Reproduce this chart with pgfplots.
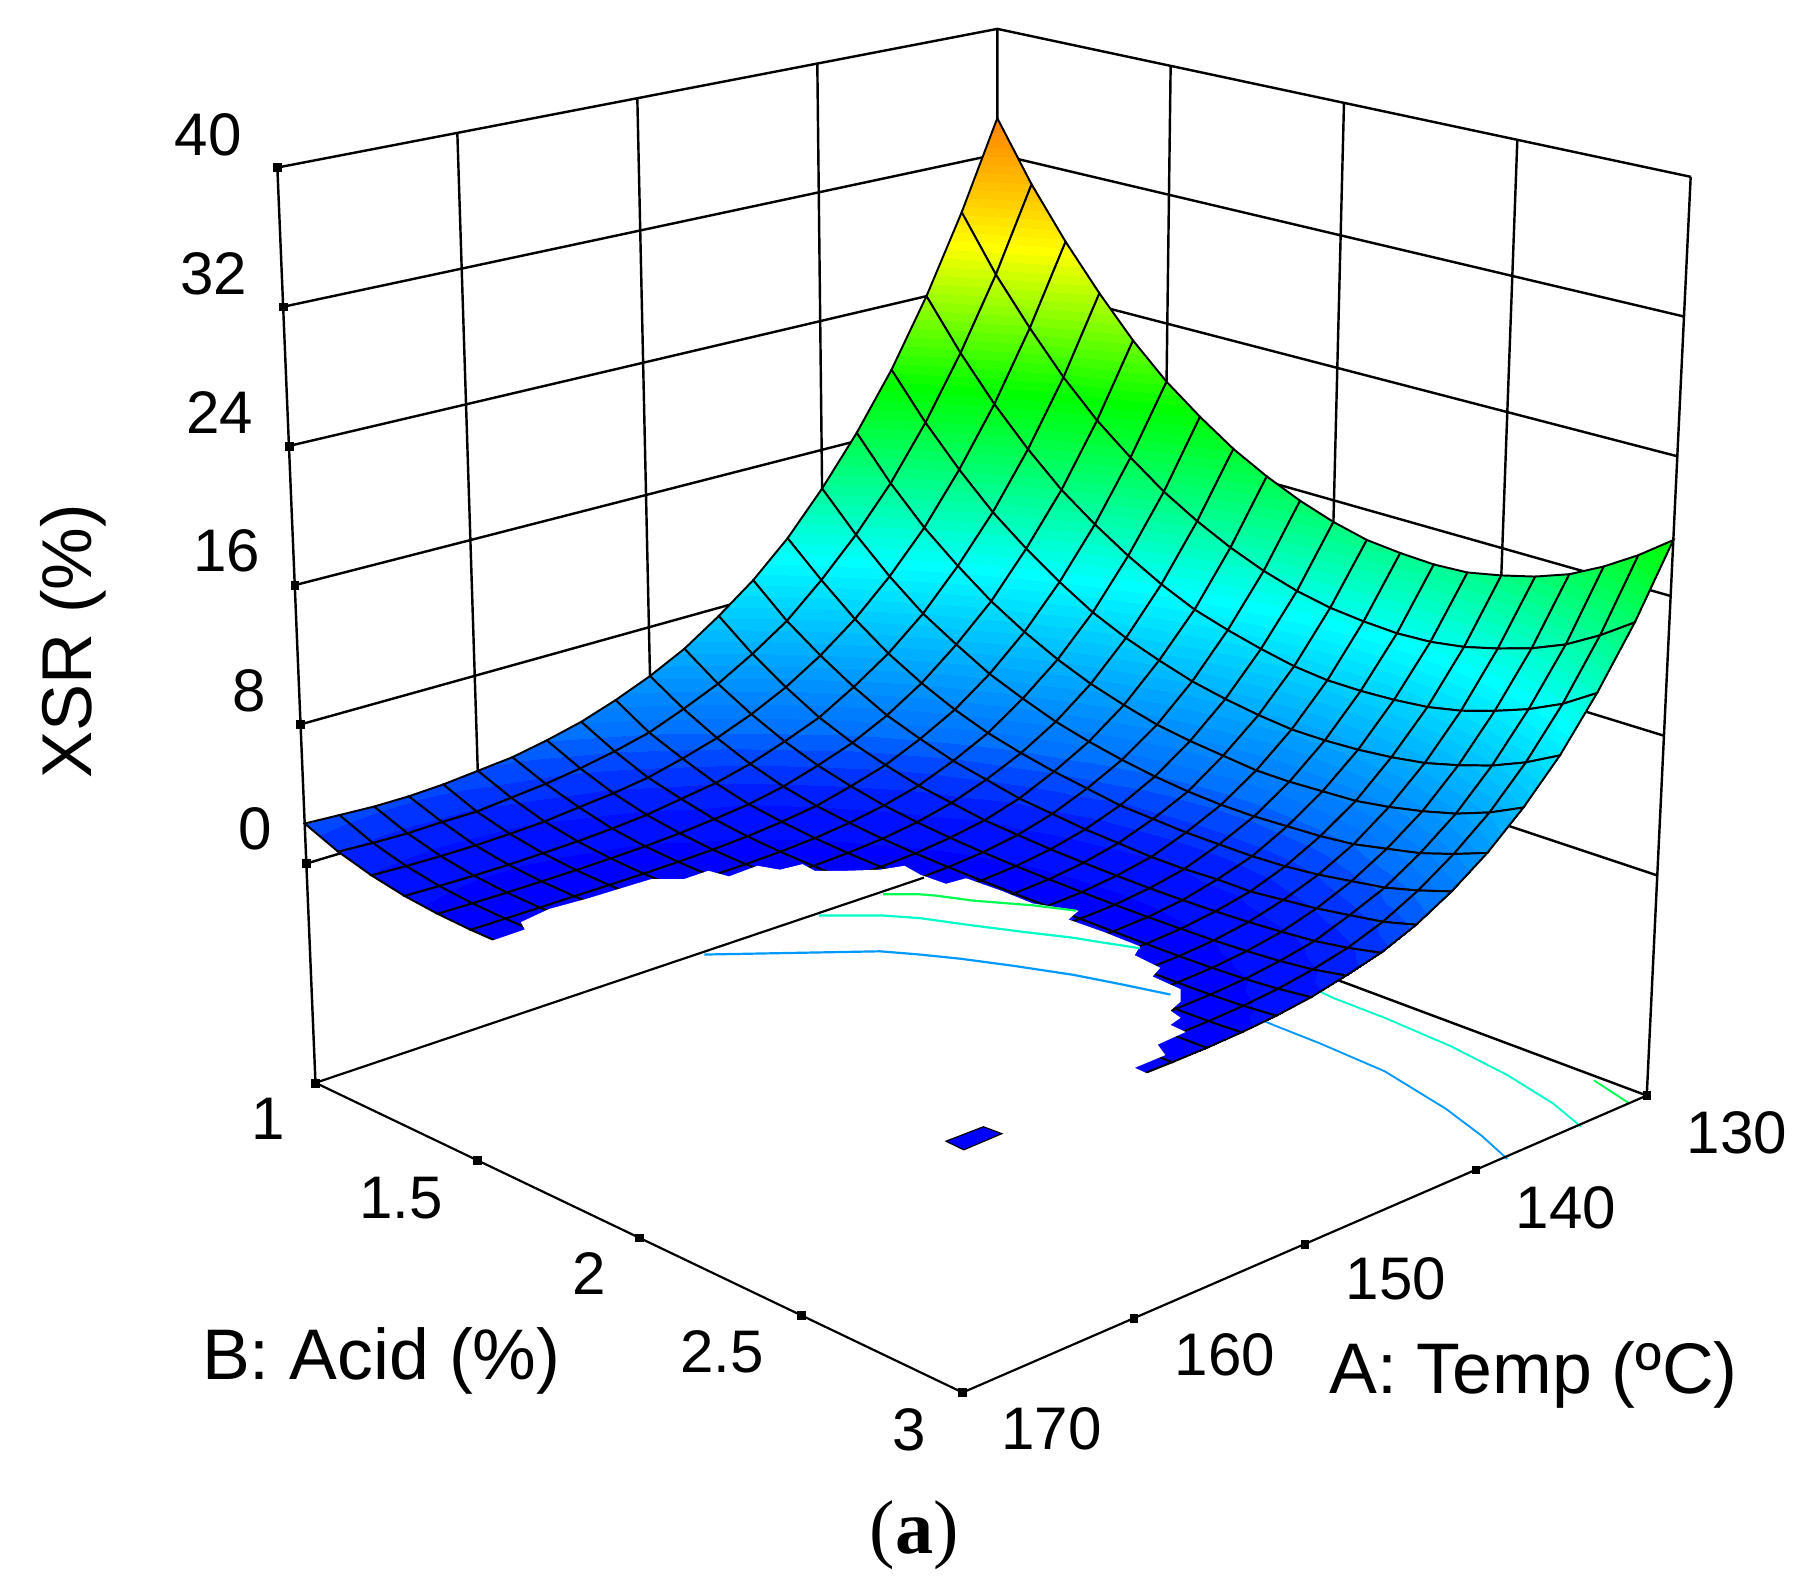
\documentclass[border=0pt]{standalone}
\usepackage{pgfplots}
\pgfplotsset{compat=1.18}
\usepackage{fontspec}
\setmainfont{Liberation Sans}
\newfontfamily\serifa{Liberation Serif}
% A, B, Z -> picture position: the box of the reference (trilinear between its eight corners)
\newcommand\sv{((\thisrow{A}-130)/40)}
\newcommand\tv{((\thisrow{B}-1)/2)}
\newcommand\wv{((\thisrow{Z}+12.6)/52.6)}
\newcommand\PX{863-590*\sv+562*\tv-2*\sv*\tv+\wv*(-33*\sv+38*\tv)}
\newcommand\PY{738+199*\sv+210*\tv+58*\sv*\tv-\wv*(713+79*\sv+82*\tv)}
\newcommand\tl[2]{\node[font=\fontsize{52}{60}\selectfont,inner sep=0pt] at (axis cs:#1) {#2};}
\newcommand\al[2]{\node[font=\fontsize{62}{70}\selectfont,inner sep=0pt] at (axis cs:#1) {#2};}
\begin{document}
\begin{tikzpicture}
\begin{axis}[
  scale only axis, width=1568pt, height=1380pt,
  xmin=0, xmax=1568, ymin=0, ymax=1380, y dir=reverse,
  hide axis, clip=true,
  colormap={dxbase}{[1cm] rgb255(0cm)=(0,0,255) rgb255(1cm)=(0,30,255) rgb255(3cm)=(0,115,255) rgb255(5cm)=(0,155,255) rgb255(10cm)=(0,255,255) rgb255(15cm)=(0,255,110) rgb255(19cm)=(0,255,0) rgb255(23cm)=(128,255,0) rgb255(27cm)=(255,255,0) rgb255(30cm)=(255,200,0) rgb255(35cm)=(255,120,0) rgb255(40cm)=(255,0,0)},
  colormap={dx}{samples of colormap={81 of dxbase}},
  colormap access=piecewise constant,
  point meta min=0, point meta max=40,
  unbounded coords=jump,
]
\addplot[draw=none, fill=white, forget plot] coordinates {(0,0) (1568,0) (1568,1380) (0,1380)} --cycle;
% back walls and floor edges behind the surface
\addplot[black, line width=2.1pt, empty line=jump] table[x expr=\PX, y expr=\PY] {
A B Z
170 1 40
130 1 40
130 3 40

170 1 32
130 1 32
130 3 32

170 1 24
130 1 24
130 3 24

170 1 16
130 1 16
130 3 16

170 1 8
130 1 8
130 3 8

170 1 0
130 1 0
130 3 0

170 1 -12.6
170 1 40

130 1 40
130 1 0

130 3 -12.6
130 3 40

160 1 40
160 1 0

150 1 40
150 1 0

140 1 40
140 1 0

130 1.5 40
130 1.5 0

130 2 40
130 2 0

130 2.5 40
130 2.5 0

130 3 -12.6
130 1 -12.6
};
% right-hand parts of the floor contours
\addplot[color={rgb,255:red,0;green,153;blue,255}, line width=1.6pt] coordinates {(1090,882) (1105.5,888.4) (1140.8,902.3) (1198.2,927) (1251.2,959.5) (1282,982.7) (1304.2,1002.8)};
\addplot[color={rgb,255:red,0;green,255;blue,200}, line width=1.6pt] coordinates {(1140,857) (1154,863.7) (1198.2,880.7) (1255.6,905.4) (1304.2,930.2) (1344,954.9) (1368.2,975)};
\addplot[color={rgb,255:red,0;green,255;blue,80}, line width=1.6pt] coordinates {(1379.2,934.8) (1410.1,954.9)};
% response surface
\addplot[surf, shader=faceted interp, faceted color=black, line width=1.7pt,
  mesh/rows=21, mesh/cols=21, point meta=\thisrow{Z}]
  table[row sep=\\, x expr=\PX, y expr=\PY] {
A B Z\\
130 1.0 34.3\\130 1.1 30.6\\130 1.2 27.5\\130 1.3 24.8\\130 1.4 22.4\\130 1.5 20.4\\130 1.6 18.8\\130 1.7 17.4\\130 1.8 16.3\\130 1.9 15.4\\130 2.0 14.7\\130 2.1 14.2\\130 2.2 14.0\\130 2.3 13.9\\130 2.4 14.0\\130 2.5 14.4\\130 2.6 14.9\\130 2.7 15.6\\130 2.8 16.6\\130 2.9 17.8\\130 3.0 19.2\\
132 1.0 28.8\\132 1.1 25.4\\132 1.2 22.6\\132 1.3 20.1\\132 1.4 18.0\\132 1.5 16.3\\132 1.6 14.8\\132 1.7 13.6\\132 1.8 12.6\\132 1.9 11.8\\132 2.0 11.2\\132 2.1 10.8\\132 2.2 10.6\\132 2.3 10.5\\132 2.4 10.6\\132 2.5 10.9\\132 2.6 11.4\\132 2.7 12.0\\132 2.8 12.8\\132 2.9 13.9\\132 3.0 15.2\\
134 1.0 24.0\\134 1.1 21.0\\134 1.2 18.4\\134 1.3 16.2\\134 1.4 14.3\\134 1.5 12.8\\134 1.6 11.5\\134 1.7 10.4\\134 1.8 9.5\\134 1.9 8.9\\134 2.0 8.4\\134 2.1 8.0\\134 2.2 7.8\\134 2.3 7.8\\134 2.4 7.9\\134 2.5 8.1\\134 2.6 8.5\\134 2.7 9.1\\134 2.8 9.8\\134 2.9 10.7\\134 3.0 11.9\\
136 1.0 19.9\\136 1.1 17.2\\136 1.2 14.9\\136 1.3 12.9\\136 1.4 11.3\\136 1.5 9.9\\136 1.6 8.7\\136 1.7 7.8\\136 1.8 7.1\\136 1.9 6.5\\136 2.0 6.1\\136 2.1 5.8\\136 2.2 5.6\\136 2.3 5.6\\136 2.4 5.7\\136 2.5 5.9\\136 2.6 6.2\\136 2.7 6.7\\136 2.8 7.3\\136 2.9 8.1\\136 3.0 9.1\\
138 1.0 16.5\\138 1.1 14.0\\138 1.2 11.9\\138 1.3 10.2\\138 1.4 8.7\\138 1.5 7.5\\138 1.6 6.5\\138 1.7 5.7\\138 1.8 5.1\\138 1.9 4.6\\138 2.0 4.3\\138 2.1 4.1\\138 2.2 3.9\\138 2.3 3.9\\138 2.4 4.0\\138 2.5 4.1\\138 2.6 4.4\\138 2.7 4.8\\138 2.8 5.3\\138 2.9 6.0\\138 3.0 6.9\\
140 1.0 13.6\\140 1.1 11.4\\140 1.2 9.5\\140 1.3 7.9\\140 1.4 6.7\\140 1.5 5.6\\140 1.6 4.8\\140 1.7 4.1\\140 1.8 3.6\\140 1.9 3.2\\140 2.0 2.9\\140 2.1 2.7\\140 2.2 2.6\\140 2.3 2.6\\140 2.4 2.7\\140 2.5 2.8\\140 2.6 3.0\\140 2.7 3.4\\140 2.8 3.8\\140 2.9 4.4\\140 3.0 5.1\\
142 1.0 11.1\\142 1.1 9.2\\142 1.2 7.5\\142 1.3 6.1\\142 1.4 5.0\\142 1.5 4.1\\142 1.6 3.4\\142 1.7 2.9\\142 1.8 2.5\\142 1.9 2.2\\142 2.0 1.9\\142 2.1 1.8\\142 2.2 1.7\\142 2.3 1.7\\142 2.4 1.7\\142 2.5 1.8\\142 2.6 2.0\\142 2.7 2.3\\142 2.8 2.6\\142 2.9 3.1\\142 3.0 3.7\\
144 1.0 9.1\\144 1.1 7.3\\144 1.2 5.9\\144 1.3 4.7\\144 1.4 3.7\\144 1.5 3.0\\144 1.6 2.4\\144 1.7 2.0\\144 1.8 1.6\\144 1.9 1.4\\144 2.0 1.2\\144 2.1 1.1\\144 2.2 1.0\\144 2.3 1.0\\144 2.4 1.1\\144 2.5 1.1\\144 2.6 1.3\\144 2.7 1.5\\144 2.8 1.8\\144 2.9 2.1\\144 3.0 2.6\\
146 1.0 7.5\\146 1.1 5.9\\146 1.2 4.6\\146 1.3 3.5\\146 1.4 2.7\\146 1.5 2.1\\146 1.6 1.6\\146 1.7 1.3\\146 1.8 1.0\\146 1.9 0.86\\146 2.0 0.74\\146 2.1 0.67\\146 2.2 0.63\\146 2.3 0.62\\146 2.4 0.64\\146 2.5 0.70\\146 2.6 0.79\\146 2.7 0.93\\146 2.8 1.1\\146 2.9 1.4\\146 3.0 1.8\\
148 1.0 6.1\\148 1.1 4.7\\148 1.2 3.6\\148 1.3 2.7\\148 1.4 2.0\\148 1.5 1.5\\148 1.6 1.1\\148 1.7 0.84\\148 1.8 0.66\\148 1.9 0.54\\148 2.0 0.46\\148 2.1 0.42\\148 2.2 0.40\\148 2.3 0.39\\148 2.4 0.40\\148 2.5 0.44\\148 2.6 0.49\\148 2.7 0.59\\148 2.8 0.73\\148 2.9 0.95\\148 3.0 1.3\\
150 1.0 5.05\\150 1.1 3.8\\150 1.2 2.8\\150 1.3 2.0\\150 1.4 1.4\\150 1.5 1.0\\150 1.6 0.74\\150 1.7 0.55\\150 1.8 0.43\\150 1.9 0.37\\150 2.0 0.33\\150 2.1 0.31\\150 2.2 0.31\\150 2.3 0.31\\150 2.4 0.31\\150 2.5 0.32\\150 2.6 0.34\\150 2.7 0.39\\150 2.8 0.48\\150 2.9 0.63\\150 3.0 0.86\\
152 1.0 4.2\\152 1.1 3.0\\152 1.2 2.2\\152 1.3 1.5\\152 1.4 1.0\\152 1.5 0.72\\152 1.6 0.51\\152 1.7 0.39\\152 1.8 0.33\\152 1.9 0.30\\152 2.0 0.30\\152 2.1 0.30\\152 2.2 0.30\\152 2.3 0.30\\152 2.4 0.30\\152 2.5 0.30\\152 2.6 0.30\\152 2.7 0.31\\152 2.8 0.35\\152 2.9 0.44\\152 3.0 0.60\\
154 1.0 3.5\\154 1.1 2.5\\154 1.2 1.7\\154 1.3 1.2\\154 1.4 0.77\\154 1.5 0.52\\154 1.6 0.38\\154 1.7 0.31\\154 1.8 0.30\\154 1.9 0.30\\154 2.0 0.30\\154 2.1 nan\\154 2.2 nan\\154 2.3 nan\\154 2.4 nan\\154 2.5 0.30\\154 2.6 0.30\\154 2.7 0.30\\154 2.8 0.30\\154 2.9 0.34\\154 3.0 0.44\\
156 1.0 3.0\\156 1.1 2.1\\156 1.2 1.4\\156 1.3 0.90\\156 1.4 0.59\\156 1.5 0.40\\156 1.6 0.32\\156 1.7 0.30\\156 1.8 0.30\\156 1.9 nan\\156 2.0 nan\\156 2.1 nan\\156 2.2 nan\\156 2.3 nan\\156 2.4 nan\\156 2.5 nan\\156 2.6 nan\\156 2.7 0.30\\156 2.8 0.30\\156 2.9 0.30\\156 3.0 0.35\\
158 1.0 2.6\\158 1.1 1.8\\158 1.2 1.2\\158 1.3 0.73\\158 1.4 0.47\\158 1.5 0.34\\158 1.6 0.30\\158 1.7 0.30\\158 1.8 nan\\158 1.9 nan\\158 2.0 nan\\158 2.1 nan\\158 2.2 nan\\158 2.3 nan\\158 2.4 nan\\158 2.5 nan\\158 2.6 nan\\158 2.7 nan\\158 2.8 0.30\\158 2.9 0.30\\158 3.0 0.31\\
160 1.0 2.4\\160 1.1 1.6\\160 1.2 0.99\\160 1.3 0.62\\160 1.4 0.41\\160 1.5 0.31\\160 1.6 0.30\\160 1.7 0.30\\160 1.8 nan\\160 1.9 nan\\160 2.0 nan\\160 2.1 nan\\160 2.2 nan\\160 2.3 nan\\160 2.4 nan\\160 2.5 nan\\160 2.6 nan\\160 2.7 nan\\160 2.8 nan\\160 2.9 0.30\\160 3.0 0.30\\
162 1.0 2.2\\162 1.1 1.4\\162 1.2 0.89\\162 1.3 0.56\\162 1.4 0.37\\162 1.5 0.30\\162 1.6 0.30\\162 1.7 nan\\162 1.8 nan\\162 1.9 nan\\162 2.0 nan\\162 2.1 nan\\162 2.2 nan\\162 2.3 nan\\162 2.4 nan\\162 2.5 nan\\162 2.6 nan\\162 2.7 nan\\162 2.8 nan\\162 2.9 0.30\\162 3.0 0.30\\
164 1.0 2.1\\164 1.1 1.4\\164 1.2 0.84\\164 1.3 0.52\\164 1.4 0.36\\164 1.5 0.30\\164 1.6 0.30\\164 1.7 nan\\164 1.8 nan\\164 1.9 nan\\164 2.0 nan\\164 2.1 nan\\164 2.2 nan\\164 2.3 nan\\164 2.4 nan\\164 2.5 nan\\164 2.6 nan\\164 2.7 nan\\164 2.8 nan\\164 2.9 nan\\164 3.0 nan\\
166 1.0 2.1\\166 1.1 1.35\\166 1.2 0.84\\166 1.3 0.52\\166 1.4 0.35\\166 1.5 0.30\\166 1.6 0.30\\166 1.7 nan\\166 1.8 nan\\166 1.9 nan\\166 2.0 nan\\166 2.1 nan\\166 2.2 nan\\166 2.3 nan\\166 2.4 nan\\166 2.5 nan\\166 2.6 nan\\166 2.7 nan\\166 2.8 nan\\166 2.9 nan\\166 3.0 nan\\
168 1.0 2.2\\168 1.1 1.4\\168 1.2 0.88\\168 1.3 0.55\\168 1.4 0.37\\168 1.5 0.30\\168 1.6 0.30\\168 1.7 nan\\168 1.8 nan\\168 1.9 nan\\168 2.0 nan\\168 2.1 nan\\168 2.2 nan\\168 2.3 nan\\168 2.4 nan\\168 2.5 nan\\168 2.6 nan\\168 2.7 nan\\168 2.8 nan\\168 2.9 nan\\168 3.0 nan\\
170 1.0 2.3\\170 1.1 1.5\\170 1.2 0.96\\170 1.3 0.60\\170 1.4 0.40\\170 1.5 0.31\\170 1.6 0.30\\170 1.7 nan\\170 1.8 nan\\170 1.9 nan\\170 2.0 nan\\170 2.1 nan\\170 2.2 nan\\170 2.3 nan\\170 2.4 nan\\170 2.5 nan\\170 2.6 nan\\170 2.7 nan\\170 2.8 nan\\170 2.9 nan\\170 3.0 nan\\
};
% the part of the surface that the reference leaves out (jagged edge)
\addplot[draw=none, fill=white, forget plot] coordinates {
(422.4,815.2) (454.2,804.3) (450.7,798) (475.4,786.5) (507.2,777.9) (535.4,769.3) (563.7,760.7) (592,760.7) (613,753.5) (630.8,758.4) (655.5,749.2) (675,752.6) (694.4,747.8) (705,753.5) (733.2,753.5) (761.5,752.6) (782.7,749.2) (796.5,757) (818.5,764.8) (836,760) (867,771) (893.6,781.8) (933.3,788) (924.5,795.7) (955.4,806.6) (986.3,818.9) (981.9,826.6) (1004,837.5) (997.3,845) (1021.6,856) (1021.6,866.8) (1012.8,874.5) (1021.6,880.7) (1012.8,886.9) (1026,893) (1001.8,903.9) (1008.4,913) (981.9,924) (995.1,930) (960,965) (700,965) (430,845)} --cycle;
% the small separate piece near the front corner
\addplot[draw=black, line width=1pt, fill={rgb,255:red,0;green,0;blue,255}, forget plot] coordinates {(818.6,987.5) (851,975) (867,981) (834,995)} --cycle;
% visible left-hand parts of the floor contours
\addplot[color={rgb,255:red,0;green,153;blue,255}, line width=1.9pt] coordinates {(609.6,826) (761.5,823.2) (796,826) (831.8,829.7) (878,835.9) (928.9,843.6) (968.6,851.4) (1012.8,860.6)};
\addplot[color={rgb,255:red,0;green,255;blue,200}, line width=1.9pt] coordinates {(708.5,792.2) (763.3,792.2) (796,794.5) (838.4,800.4) (887,806.6) (926.7,811.2) (955.4,815.8) (986.3,820.5)};
\addplot[color={rgb,255:red,0;green,255;blue,80}, line width=1.9pt] coordinates {(764.3,773.9) (796,773.9) (809.7,775) (842.8,779.4) (893.6,783.4) (931.1,788)};
% floor edges in front
\addplot[black, line width=1.9pt] table[x expr=\PX, y expr=\PY] {
A B Z
134.3 1 -12.6
170 1 -12.6
170 3 -12.6
130 3 -12.6
};
% tick marks
\addplot[only marks, mark=square*, mark size=3.4pt, black] table[x expr=\PX, y expr=\PY] {
A B Z
170 1 40
170 1 32
170 1 24
170 1 16
170 1 8
170 1 0
170 1 -12.6
170 1.5 -12.6
170 2 -12.6
170 2.5 -12.6
170 3 -12.6
160 3 -12.6
150 3 -12.6
140 3 -12.6
130 3 -12.6
};
\tl{180,117}{40}
\tl{185,237}{32}
\tl{190,357}{24}
\tl{196,477}{16}
\tl{216,598}{8}
\tl{221,717}{0}
\tl{232,968}{1}
\tl{347,1037}{1.5}
\tl{510,1102}{2}
\tl{625,1170}{2.5}
\tl{787,1237}{3}
\tl{1503,980}{130}
\tl{1355,1045}{140}
\tl{1208,1107}{150}
\tl{1060,1172}{160}
\tl{910,1236}{170}
\al{330,1178}{B: Acid (\%)}
\al{1327,1190}{A: Temp (ºC)}
\node[font=\fontsize{61}{68}\selectfont,inner sep=0pt,rotate=90] at (axis cs:63,555) {XSR (\%)};
\node[font=\fontsize{66}{76}\selectfont\serifa,inner sep=0pt] at (axis cs:791,1328) {(\textbf{a})};
\end{axis}
\end{tikzpicture}
\end{document}
